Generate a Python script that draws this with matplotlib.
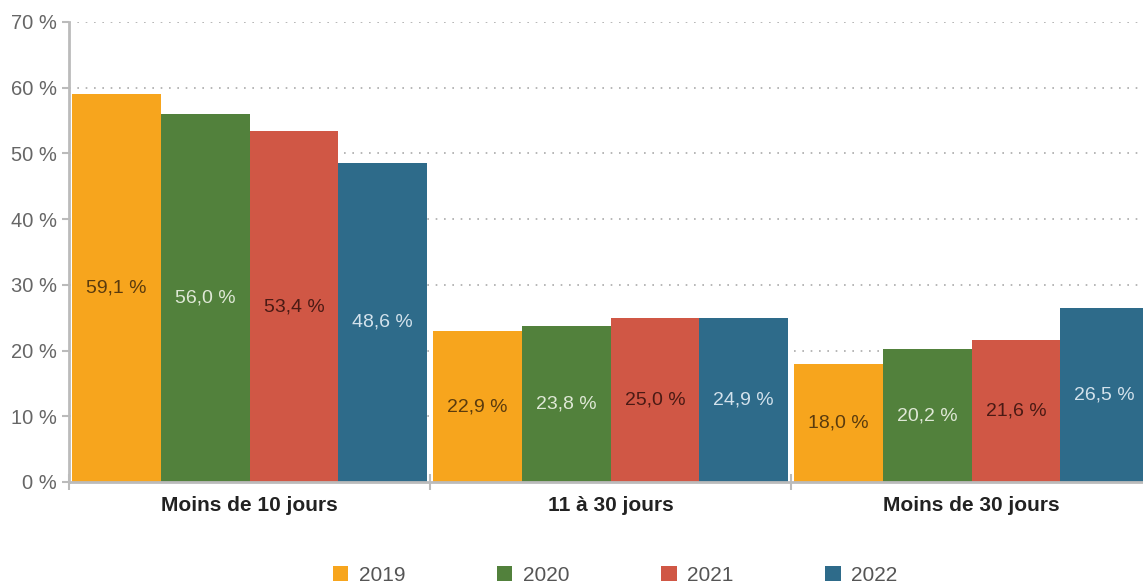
import matplotlib.pyplot as plt
import numpy as np
from matplotlib.ticker import FuncFormatter

categories = ["Moins de 10 jours", "11 à 30 jours", "Moins de 30 jours"]
years = ["2019", "2020", "2021", "2022"]
values = {
    "2019": [59.1, 22.9, 18.0],
    "2020": [56.0, 23.8, 20.2],
    "2021": [53.4, 25.0, 21.6],
    "2022": [48.6, 24.9, 26.5],
}

colors = ["#f7a51d", "#52813c", "#d05745", "#2e6b8a"]
label_colors = ["#5a3b0e", "#dfe8d6", "#4a1a14", "#d3e2ec"]

plt.rcParams["font.family"] = ["Liberation Sans", "DejaVu Sans"]

fig = plt.figure(figsize=(11.43, 5.86), dpi=100)
ax = fig.add_axes([0.0604, 0.1775, 0.9475, 0.785])

x = np.arange(len(categories))
width = 0.246
for i, year in enumerate(years):
    pos = x + (i - 1.5) * width
    bars = ax.bar(pos, values[year], width, color=colors[i], label=year, zorder=2)
    for b, v in zip(bars, values[year]):
        ax.text(b.get_x() + b.get_width() / 2, v / 2, f"{v:.1f} %".replace(".", ","),
                ha="center", va="center", fontsize=14, color=label_colors[i], zorder=3)

ax.set_xlim(-0.5, 2.5)
ax.set_ylim(0, 70)
ax.set_yticks(range(0, 71, 10))
ax.yaxis.set_major_formatter(FuncFormatter(lambda v, _: f"{int(v)} %"))
ax.tick_params(axis="y", labelsize=14.5, labelcolor="#666666", color="#bbbbbb", length=5, width=1.5)

ax.set_xticks([-0.5, 0.5, 1.5, 2.5])
ax.set_xticklabels([])
ax.set_xticks(x, minor=True)
ax.set_xticklabels(categories, minor=True, fontsize=15, fontweight="bold", color="#222222")
ax.tick_params(axis="x", which="major", direction="inout", length=12, width=1.5, color="#bbbbbb")
ax.tick_params(axis="x", which="minor", length=0, pad=10)

for yv in range(10, 71, 10):
    ax.axhline(yv, color="#aaaaaa", linestyle=(0, (1, 4)), linewidth=1.2, zorder=1)

for s in ["top", "right"]:
    ax.spines[s].set_visible(False)
ax.spines["left"].set_color("#bbbbbb")
ax.spines["left"].set_linewidth(2)
ax.spines["bottom"].set_color("#bbbbbb")
ax.spines["bottom"].set_linewidth(2)

leg = fig.legend(loc="lower center", bbox_to_anchor=(0.538, -0.03), ncol=4, frameon=False,
                 fontsize=15, handlelength=0.75, handleheight=0.75, handletextpad=0.5,
                 columnspacing=4.4)
for t in leg.get_texts():
    t.set_color("#555555")

fig.savefig("out.png", dpi=100)
